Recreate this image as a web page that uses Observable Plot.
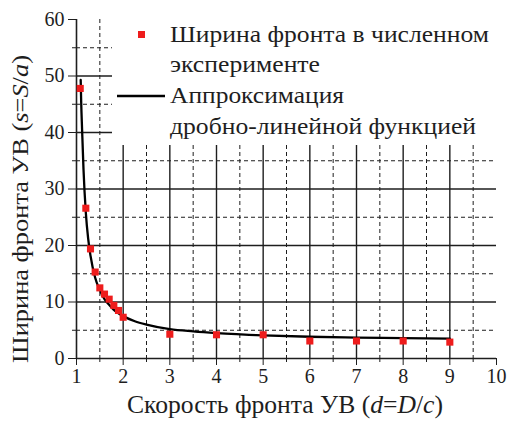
<!DOCTYPE html>
<html>
<head>
<meta charset="utf-8">
<script src="https://cdn.jsdelivr.net/npm/d3@7"></script>
<script src="https://cdn.jsdelivr.net/npm/@observablehq/plot@0.6"></script>
<style>
  body { margin: 0; background: #fff; }
  #chart { position: relative; width: 509px; height: 426px; }
  #chart svg, #chart svg text { font-family: "Liberation Serif", "Times New Roman", Times, serif !important; }
</style>
</head>
<body>
<div id="chart"></div>
<script>
// Numerical experiment: front width s vs. front speed d
const simD = [1.08, 1.2, 1.3, 1.4, 1.5, 1.6, 1.7, 1.8, 1.9, 2, 3, 4, 5, 6, 7, 8, 9];
const simS = [47.8, 26.6, 19.4, 15.3, 12.5, 11.4, 10.5, 9.4, 8.5, 7.3, 4.3, 4.2, 4.2, 3.1, 3.1, 3.1, 2.9];

// Fractional-linear approximation, sampled along the curve
const fitD = [1.09, 1.1, 1.12, 1.15, 1.2, 1.25, 1.3, 1.4, 1.5, 1.6, 1.7, 1.8, 2, 2.25, 2.5, 3, 3.5, 4, 5, 6, 7, 8, 9];
const fitS = [49.3, 45.5, 40.5, 33.5, 25.8, 21.2, 18.2, 14.3, 12.1, 10.5, 9.5, 8.6, 7.5, 6.6, 6.0, 5.2, 4.8, 4.5, 4.1, 3.85, 3.7, 3.6, 3.5];

// Axis ticks and grid
const xMajor = [1, 2, 3, 4, 5, 6, 7, 8, 9, 10];
const xMinor = [1.5, 2.5, 3.5, 4.5, 5.5, 6.5, 7.5, 8.5, 9.5];
const yMajor = [0, 10, 20, 30, 40, 50, 60];
const yMinor = [5, 15, 25, 35, 45, 55];
const xGrid = [2, 3, 4, 5, 6, 7, 8, 9];

// Legend entries
const legendLines = ["Ширина фронта в численном", "эксперименте", "Аппроксимация", "дробно-линейной функцией"];

const sim = simD.map((d, i) => ({d, s: simS[i]}));
const fit = fitD.map((d, i) => ({d, s: fitS[i]}));

const ink = "#1e1e1e";
const red = "#ee1c1c";

const plot = Plot.plot({
  width: 509,
  height: 426,
  marginLeft: 76,
  marginRight: 13,
  marginTop: 19,
  marginBottom: 68,
  x: {domain: [1, 10]},
  y: {domain: [0, 60]},
  style: {fontSize: "20px", color: ink, background: "#fff", overflow: "visible"},
  marks: [
    Plot.ruleX(xGrid, {stroke: ink, strokeWidth: 1.4, strokeOpacity: 1}),
    Plot.ruleX(xMinor, {stroke: ink, strokeWidth: 1, strokeDasharray: "4,3", strokeOpacity: 1}),
    Plot.ruleY(yMajor.filter(v => v > 0 && v < 60), {stroke: ink, strokeWidth: 1.4, strokeOpacity: 1}),
    Plot.ruleY(yMinor, {stroke: ink, strokeWidth: 1, strokeDasharray: "4,3", strokeOpacity: 1}),
    Plot.axisX(xMajor, {tickSize: 7, tickPadding: 3, tickFormat: d => d, label: null, stroke: ink, strokeOpacity: 1, fill: ink}),
    Plot.axisX(xMinor, {tickSize: 4, tickFormat: () => "", label: null, stroke: ink, strokeOpacity: 1}),
    Plot.axisY(yMajor, {tickSize: 8, tickPadding: 4, tickFormat: d => d, label: null, stroke: ink, strokeOpacity: 1, fill: ink}),
    Plot.axisY(yMinor, {tickSize: 4, tickFormat: () => "", label: null, stroke: ink, strokeOpacity: 1}),
    Plot.ruleY([0], {stroke: ink, strokeWidth: 1.6}),
    Plot.ruleX([1], {stroke: ink, strokeWidth: 1.6}),
    Plot.line(fit, {x: "d", y: "s", stroke: "#000", strokeWidth: 2.3, curve: "monotone-x"}),
    Plot.dot(sim, {x: "d", y: "s", symbol: "square", r: 4, fill: red, stroke: "none"})
  ]
});

document.getElementById("chart").appendChild(plot);

const svg = d3.select(plot);

// Axis titles with italic variables
function title(g, parts) {
  parts.forEach(([t, it]) => g.append("tspan").text(t).attr("font-style", it ? "italic" : null));
}
const xt = svg.append("text")
  .attr("x", 285).attr("y", 413)
  .attr("text-anchor", "middle")
  .attr("font-size", 25).attr("fill", ink)
  .attr("textLength", 316).attr("lengthAdjust", "spacingAndGlyphs");
title(xt, [["Скорость фронта УВ (", 0], ["d", 1], ["=", 0], ["D", 1], ["/", 0], ["c", 1], [")", 0]]);

const yt = svg.append("text")
  .attr("transform", "translate(28,209) rotate(-90)")
  .attr("text-anchor", "middle")
  .attr("font-size", 24).attr("fill", ink)
  .attr("textLength", 308).attr("lengthAdjust", "spacingAndGlyphs");
title(yt, [["Ширина фронта УВ (", 0], ["s", 1], ["=", 0], ["S", 1], ["/", 0], ["a", 1], [")", 0]]);

// Legend on a white panel over the upper grid
const lg = svg.append("g").attr("font-size", 23).attr("fill", ink).attr("text-anchor", "start");
lg.append("rect").attr("x", 112).attr("y", 0).attr("width", 397).attr("height", 145).attr("fill", "#fff");
lg.append("rect").attr("x", 138).attr("y", 31).attr("width", 7).attr("height", 7).attr("fill", red);
lg.append("line").attr("x1", 117).attr("x2", 165).attr("y1", 96).attr("y2", 96).attr("stroke", "#000").attr("stroke-width", 2.6);
const rows = [[42, 319], [72, 150], [103, 174], [134, 306]];
legendLines.forEach((t, i) => lg.append("text")
  .attr("x", 170).attr("y", rows[i][0])
  .attr("text-anchor", "start")
  .attr("textLength", rows[i][1]).attr("lengthAdjust", "spacingAndGlyphs")
  .text(t));
</script>
</body>
</html>
